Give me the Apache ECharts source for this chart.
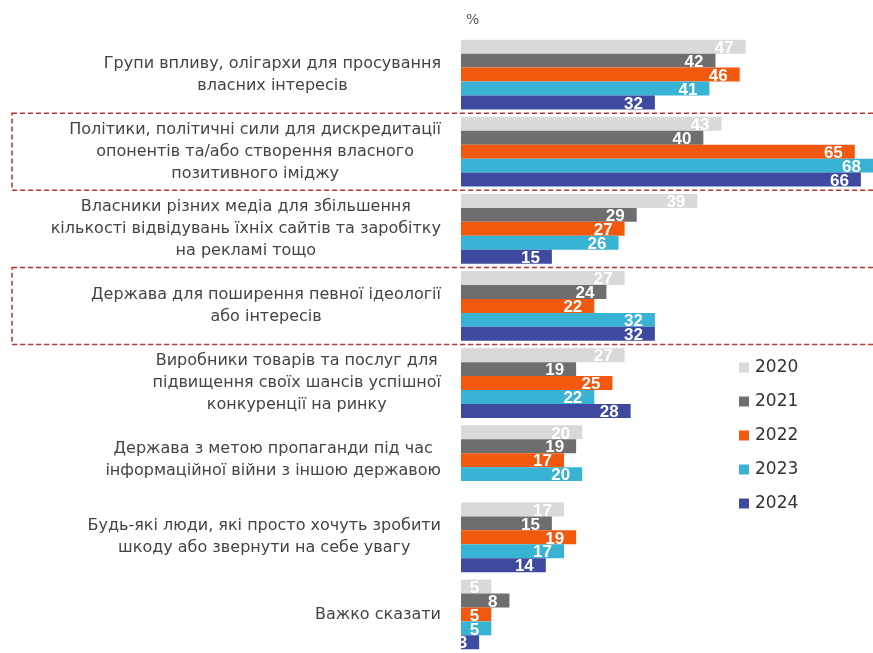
<!DOCTYPE html>
<html>
<head>
<meta charset="utf-8">
<script src="https://cdn.jsdelivr.net/npm/echarts@6/dist/echarts.min.js"></script>
<style>
  html, body { margin: 0; padding: 0; background: #ffffff; }
  #chart { width: 873px; height: 653px; }
</style>
</head>
<body>
<div id="chart"></div>
<script>
// Who spreads disinformation and why, survey shares in %
const categories = [
  'Групи впливу, олігархи для просування\nвласних інтересів',
  'Політики, політичні сили для дискредитації\nопонентів та/або створення власного\nпозитивного іміджу',
  'Власники різних медіа для збільшення\nкількості відвідувань їхніх сайтів та заробітку\nна рекламі тощо',
  'Держава для поширення певної ідеології\nабо інтересів',
  'Виробники товарів та послуг для\nпідвищення своїх шансів успішної\nконкуренції на ринку',
  'Держава з метою пропаганди під час\nінформаційної війни з іншою державою',
  'Будь-які люди, які просто хочуть зробити\nшкоду або звернути на себе увагу',
  'Важко сказати'
];

const years = ['2020', '2021', '2022', '2023', '2024'];

const values2020 = [47, 43, 39, 27, 27, 20, 17, 5];
const values2021 = [42, 40, 29, 24, 19, 19, 15, 8];
const values2022 = [46, 65, 27, 22, 25, 17, 19, 5];
const values2023 = [41, 68, 26, 32, 22, 20, 17, 5];
const values2024 = [32, 66, 15, 32, 28, null, 14, 3];

// Categories outlined with a dashed frame
const highlighted = [1, 3];

const seriesValues = [values2020, values2021, values2022, values2023, values2024];
const colors = ['#d9d9d9', '#6e6e6e', '#f2590f', '#38b3d3', '#3d4a9f'];

const chart = echarts.init(document.getElementById('chart'), null, { renderer: 'canvas' });

const labelFont = 'DejaVu Sans, Liberation Sans, sans-serif';

const option = {
  animation: false,
  backgroundColor: '#ffffff',
  title: {
    text: '%',
    left: 461,
    top: 8,
    textStyle: { fontSize: 14, fontWeight: 'normal', color: '#555555', fontFamily: labelFont }
  },
  legend: {
    orient: 'vertical',
    left: 734,
    top: 354,
    itemWidth: 10,
    itemHeight: 10,
    itemGap: 17,
    icon: 'rect',
    data: years,
    textStyle: { fontSize: 17, color: '#333333', fontFamily: labelFont, padding: [0, 0, 0, 1] }
  },
  grid: { left: 461, right: 0, top: 36, bottom: -4, containLabel: false },
  xAxis: {
    type: 'value',
    min: 0,
    max: 68,
    show: false
  },
  yAxis: {
    type: 'category',
    inverse: true,
    data: categories,
    axisLine: { show: false },
    axisTick: { show: false },
    splitLine: { show: false },
    axisLabel: {
      margin: 20,
      formatter: function (value) {
        return value.split('\n').map(function (line) { return '{c|' + line + '}'; }).join('\n');
      },
      rich: {
        c: {
          align: 'center',
          fontSize: 16,
          lineHeight: 22,
          color: '#444444',
          fontFamily: labelFont
        }
      }
    }
  },
  series: years.map(function (year, i) {
    return {
      name: year,
      type: 'bar',
      data: seriesValues[i],
      barGap: '0%',
      barCategoryGap: '9.7%',
      itemStyle: { color: colors[i] },
      label: {
        show: true,
        position: 'insideRight',
        distance: 12,
        offset: [0, 1.5],
        color: '#ffffff',
        fontSize: 17,
        fontWeight: 'bold',
        fontFamily: 'Liberation Sans, Arial, sans-serif'
      }
    };
  })
};

chart.setOption(option);

// Dashed frames spanning the full band of selected categories
function drawFrames() {
  const a = chart.convertToPixel({ yAxisIndex: 0 }, 0);
  const b = chart.convertToPixel({ yAxisIndex: 0 }, 1);
  const band = b - a;
  const elements = highlighted.map(function (idx) {
    const center = chart.convertToPixel({ yAxisIndex: 0 }, idx);
    return {
      type: 'rect',
      z: 100,
      silent: true,
      shape: { x: 12, y: center - band / 2, width: 900, height: band },
      style: {
        fill: 'none',
        stroke: '#b8322f',
        lineWidth: 1.5,
        lineDash: [5, 3]
      }
    };
  });
  chart.setOption({ graphic: elements });
}
drawFrames();
</script>
</body>
</html>
